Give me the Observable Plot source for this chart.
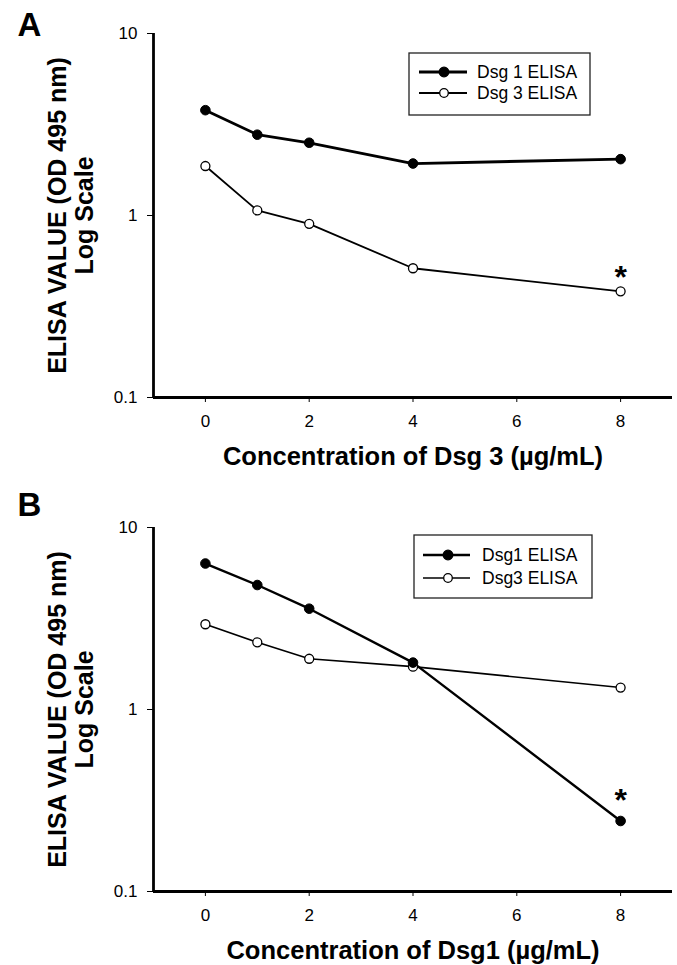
<!DOCTYPE html>
<html><head><meta charset="utf-8">
<script src="https://cdn.jsdelivr.net/npm/d3@7"></script>
<script src="https://cdn.jsdelivr.net/npm/@observablehq/plot@0.6"></script>
<style>
body{margin:0;background:#fff;}
#wrap{position:relative;width:677px;height:965px;font-family:"Liberation Sans",Arial,sans-serif;}
.panel{position:relative;width:677px;}
.panel svg{display:block;}
.legend{position:absolute;left:0;top:0;pointer-events:none;overflow:visible;}
</style></head><body><div id="wrap"></div>
<script>
// ---- data ----
const concentrations = [0, 1, 2, 4, 8];
const panelA_dsg1 = [3.79, 2.78, 2.51, 1.93, 2.04];
const panelA_dsg3 = [1.87, 1.066, 0.90, 0.513, 0.383];
const panelB_dsg1 = [6.34, 4.83, 3.58, 1.81, 0.244];
const panelB_dsg3 = [2.94, 2.34, 1.90, 1.72, 1.32];
const xTicks = [0, 2, 4, 6, 8];
const yTicks = [0.1, 1, 10];
const seriesNamesA = ["Dsg 1 ELISA", "Dsg 3 ELISA"];
const seriesNamesB = ["Dsg1 ELISA", "Dsg3 ELISA"];
const titlesX = ["Concentration of Dsg 3 (µg/mL)", "Concentration of Dsg1 (µg/mL)"];
const titleY = "ELISA VALUE (OD 495 nm)\nLog Scale";
const panelLetters = ["A", "B"];
const asteriskA = [{x: 8, y: 0.48}];
const asteriskB = [{x: 8, y: 0.33}];

const FONT = '"Liberation Sans", Arial, Helvetica, sans-serif';
const wrap = document.getElementById("wrap");

function rows(values) { return concentrations.map((c, i) => ({x: c, y: values[i]})); }

function makePanel(cfg) {
  const div = document.createElement("div");
  div.className = "panel";
  const s1 = rows(cfg.dsg1), s3 = rows(cfg.dsg3);
  const chart = Plot.plot({
    width: 677, height: cfg.height,
    marginLeft: 153, marginRight: 5, marginTop: cfg.mt, marginBottom: cfg.mb,
    style: {fontFamily: FONT, fontSize: "17px", color: "#000", background: "#fff", overflow: "visible"},
    x: {type: "linear", domain: [-1, 9]},
    y: {type: "log", domain: [0.1, 10]},
    marks: [
      Plot.axisX({ticks: xTicks, tickSize: 5, tickPadding: 12, tickFormat: d => String(d), label: null, fontSize: 17, strokeWidth: 1}),
      Plot.axisY({ticks: yTicks, tickSize: 6, tickPadding: 10, tickFormat: d => String(d), label: null, fontSize: 17, strokeWidth: 1}),
      Plot.ruleX([-1], {stroke: "#000", strokeWidth: 2.8}),
      Plot.ruleY([0.1], {stroke: "#000", strokeWidth: 2.8}),
      Plot.line(s3, {x: "x", y: "y", stroke: "#000", strokeWidth: cfg.w3}),
      Plot.line(s1, {x: "x", y: "y", stroke: "#000", strokeWidth: cfg.w1}),
      Plot.dot(s3, {x: "x", y: "y", r: 4.5, fill: "#fff", stroke: "#000", strokeWidth: 1.3}),
      Plot.dot(s1, {x: "x", y: "y", r: 4.8, fill: "#000", stroke: "#000", strokeWidth: 1}),
      Plot.text(cfg.star, {x: "x", y: "y", text: () => "*", fontSize: 32, fontWeight: "bold", lineAnchor: "middle", dy: 4}),
      Plot.text([cfg.titleX], {text: d => d, frameAnchor: "bottom", dy: 59, lineAnchor: "middle", fontSize: 25.5, fontWeight: "bold"}),
      Plot.text([titleY], {text: d => d, frameAnchor: "left", textAnchor: "middle", rotate: -90, dx: -82.5, fontSize: 25, fontWeight: "bold", lineHeight: 1.08, lineAnchor: "middle"}),
      Plot.text([cfg.letter], {text: d => d, frameAnchor: "top-left", textAnchor: "start", lineAnchor: "middle", dx: -136, dy: cfg.letterDy, fontSize: 33, fontWeight: "bold"})
    ]
  });
  div.appendChild(chart);

  // legend overlay
  const L = cfg.legend;
  const svg = d3.select(div).append("svg").attr("class", "legend")
    .attr("width", 677).attr("height", cfg.height);
  svg.append("rect").attr("x", L.x0).attr("y", L.y0).attr("width", L.x1 - L.x0).attr("height", L.y1 - L.y0)
    .attr("fill", "#fff").attr("stroke", "#222").attr("stroke-width", 1.3);
  const styles = [
    {w: cfg.w1, fill: "#000", r: 4.8},
    {w: cfg.w3, fill: "#fff", r: 4.3}
  ];
  cfg.names.forEach((name, i) => {
    const y = L.rows[i], s = styles[i];
    svg.append("line").attr("x1", L.lx0).attr("x2", L.lx1).attr("y1", y).attr("y2", y)
      .attr("stroke", "#000").attr("stroke-width", s.w);
    svg.append("circle").attr("cx", L.mx).attr("cy", y).attr("r", s.r)
      .attr("fill", s.fill).attr("stroke", "#000").attr("stroke-width", 1.3);
    svg.append("text").attr("x", L.tx).attr("y", y).attr("dy", "0.36em")
      .attr("font-family", FONT).attr("font-size", 17.5).attr("fill", "#000").text(name);
  });
  wrap.appendChild(div);
}

makePanel({
  height: 480, mt: 33, mb: 83,
  dsg1: panelA_dsg1, dsg3: panelA_dsg3, w1: 2.8, w3: 1.8,
  star: asteriskA, titleX: titlesX[0], letter: panelLetters[0], letterDy: -8.5,
  names: seriesNamesA,
  legend: {x0: 409, x1: 590, y0: 53, y1: 115, rows: [72, 93], lx0: 419, lx1: 467, mx: 444, tx: 477}
});
makePanel({
  height: 485, mt: 47, mb: 74,
  dsg1: panelB_dsg1, dsg3: panelB_dsg3, w1: 2.4, w3: 1.6,
  star: asteriskB, titleX: titlesX[1], letter: panelLetters[1], letterDy: -22.5,
  names: seriesNamesB,
  legend: {x0: 414, x1: 592, y0: 55, y1: 118, rows: [75, 98], lx0: 423, lx1: 470, mx: 448, tx: 482}
});
</script></body></html>
